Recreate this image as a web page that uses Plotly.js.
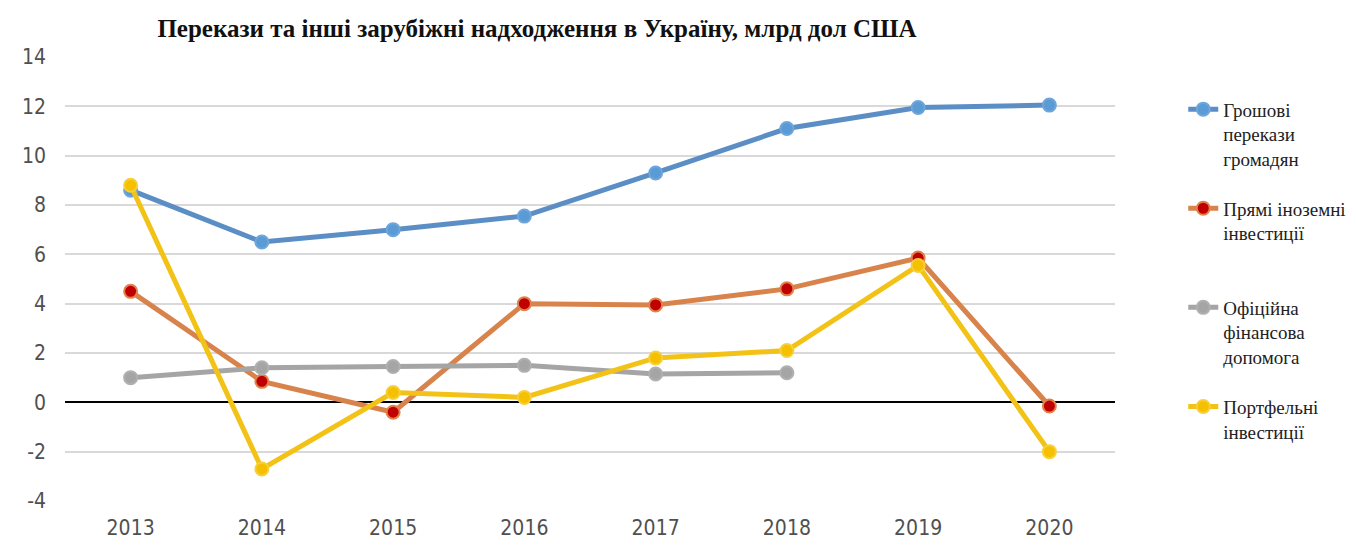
<!DOCTYPE html>
<html>
<head>
<meta charset="utf-8">
<script src="https://cdn.plot.ly/plotly-3.0.1.min.js"></script>
<style>html,body{margin:0;padding:0;background:#fff;}#chart{width:1356px;height:545px;}</style>
</head>
<body>
<div id="chart"></div>
<script>
const years = ['2013','2014','2015','2016','2017','2018','2019','2020'];
const remittances = [8.6, 6.5, 7.0, 7.55, 9.3, 11.1, 11.95, 12.05];
const fdi = [4.5, 0.85, -0.4, 4.0, 3.95, 4.6, 5.85, -0.15];
const officialAid = [1.0, 1.4, 1.45, 1.5, 1.15, 1.2, null, null];
const portfolio = [8.8, -2.7, 0.4, 0.2, 1.8, 2.1, 5.55, -2.0];
const yTickVals = [-4, -2, 0, 2, 4, 6, 8, 10, 12, 14];
const yTickText = ['-4', '-2', '0', '2', '4', '6', '8', '10', '12', '14'];

const names = ['Грошові<br>перекази<br>громадян', 'Прямі іноземні<br>інвестиції<br> ', 'Офіційна<br>фінансова<br>допомога', 'Портфельні<br>інвестиції'];

function tr(y, name, lineColor, markerColor, markerLine, grp) {
  return {
    x: years, y: y, name: name, type: 'scatter', mode: 'lines+markers',
    legendgroup: grp,
    line: {color: lineColor, width: 5},
    marker: {color: markerColor, size: 13, line: {color: markerLine, width: 2}},
    connectgaps: false
  };
}

const data = [
  tr(remittances, names[0], '#5b8ec4', '#5b9bd5', '#6ea6dc', 'a'),
  tr(fdi, names[1], '#d9834c', '#c00000', '#e0824a', 'b'),
  tr(officialAid, names[2], '#a5a5a5', '#a5a5a5', '#b0b0b0', 'c'),
  tr(portfolio, names[3], '#f2c316', '#f5c000', '#f7cf3a', 'd')
];

const tickFont = {family: "'DejaVu Sans Condensed', 'Liberation Sans Narrow', sans-serif", size: 21, color: '#505050'};

const layout = {
  width: 1356, height: 545,
  margin: {l: 65, r: 241, t: 57, b: 44, autoexpand: false},
  paper_bgcolor: '#fff', plot_bgcolor: '#fff',
  font: {family: "'Liberation Serif', serif"},
  title: {
    text: '<b>Перекази та інші зарубіжні надходження в Україну, млрд дол США</b>',
    font: {family: "'Liberation Serif', serif", size: 25, color: '#111'},
    xref: 'container', x: 0.396, xanchor: 'center',
    yref: 'container', y: 0.949, yanchor: 'middle'
  },
  xaxis: {
    type: 'category', range: [-0.5, 7.5], showgrid: false, zeroline: false, showline: false,
    ticks: '', ticklabelstandoff: 12, automargin: false,
    tickfont: tickFont
  },
  yaxis: {
    range: [-4, 14], tickmode: 'array', tickvals: yTickVals, ticktext: yTickText,
    showgrid: true, gridcolor: '#d9d9d9', gridwidth: 2,
    zeroline: true, zerolinecolor: '#000', zerolinewidth: 2,
    showline: false, ticks: '', ticklabelstandoff: 18, automargin: false,
    tickfont: tickFont
  },
  legend: {
    xref: 'paper', yref: 'paper', x: 1.065, y: 0.925, xanchor: 'left', yanchor: 'top',
    valign: 'top', tracegroupgap: 22, traceorder: 'grouped',
    font: {family: "'Liberation Serif', serif", size: 19, color: '#222'},
    bgcolor: 'rgba(0,0,0,0)'
  },
  showlegend: true
};

Plotly.newPlot('chart', data, layout, {displayModeBar: false, staticPlot: true});
</script>
</body>
</html>
